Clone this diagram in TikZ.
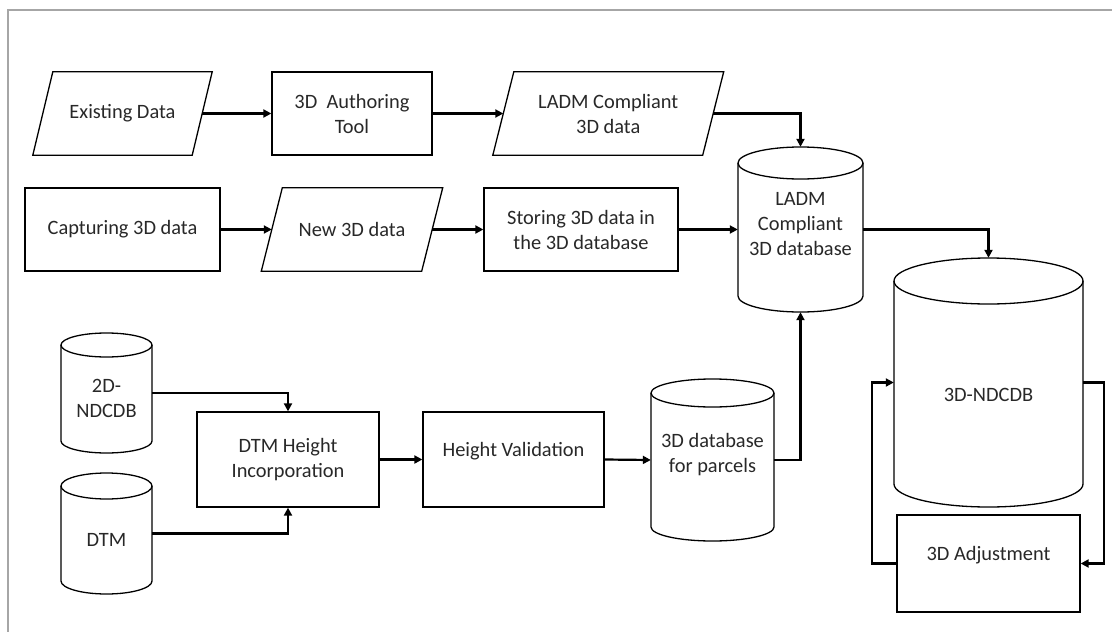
\documentclass[tikz,border=0pt]{standalone}
\usepackage{fontspec}
\setmainfont{Carlito}
\usetikzlibrary{arrows.meta,calc}
\definecolor{txt}{RGB}{40,40,40}
\tikzset{
 bline/.style={line width=1.3pt, draw=black},
 conn/.style={line width=2.2pt, -{Triangle[length=8pt,width=8pt]}},
 bx/.style={draw, bline, inner sep=0pt, align=center, text=txt},
 ghost/.style={draw=none, inner sep=0pt, align=center, text=txt},
 lbl/.style={align=center, text=txt, inner sep=0pt},
}
% name, cx, ytop, ybot, rx, ry
\newcommand\dbcyl[6]{%
 \pgfmathsetmacro\cyA{#3+#6}\pgfmathsetmacro\cyB{#4-#6}%
 \pgfmathsetmacro\cyC{(#3+#4)/2}\pgfmathsetmacro\cyW{2*#5}\pgfmathsetmacro\cyH{#4-#3}%
 \node[ghost, minimum width=\cyW pt, minimum height=\cyH pt] (#1) at (#2,\cyC) {};
 \draw[bline] (#2-#5,\cyA) -- (#2-#5,\cyB) arc[start angle=180,end angle=0,x radius=#5,y radius=#6] -- (#2+#5,\cyA);
 \draw[bline] (#2,\cyA) ellipse[x radius=#5, y radius=#6];
}
% name, cx, cy, w, h, skew, text
\newcommand\paranode[7]{%
 \node[ghost, minimum width=#4pt, minimum height=#5pt] (#1) at (#2,#3) {#7};
 \draw[bline] ($(#1.north west)+(#6/2,0)$) -- ($(#1.north east)+(#6/2,0)$) -- ($(#1.south east)+(-#6/2,0)$) -- ($(#1.south west)+(-#6/2,0)$) -- cycle;
}
\begin{document}
\begin{tikzpicture}[x=1pt, y=-1pt, font=\fontsize{20.4pt}{25pt}\selectfont]
\useasboundingbox (0,0) rectangle (1112,632);
\fill[white] (0,0) rectangle (1112,632);
\draw[black!35, line width=1.5pt] (8,632) -- (8,10) -- (1112,10);

% row 1
\paranode{ed}{122.5}{113.5}{159}{83}{20}{Existing Data}
\node[bx, minimum width=160pt, minimum height=83pt] (auth) at (352,113.5) {3D\hspace{0.45em}Authoring\\Tool};
\paranode{ladm}{608.25}{113.5}{209.5}{83}{21}{LADM Compliant\\3D data}

% row 2
\node[bx, minimum width=195pt, minimum height=83pt] (cap) at (122.5,229.5) {Capturing 3D data};
\paranode{new}{352}{229.5}{160}{83}{21}{New 3D data}
\node[bx, minimum width=194pt, minimum height=83pt] (stor) at (581,229.5) {Storing 3D data in\\the 3D database};

% cylinders
\dbcyl{ladmdb}{800.5}{147}{312}{62.5}{16}
\node[lbl] at (800.5,224) {LADM\\Compliant\\3D database};
\dbcyl{nd3}{988.5}{258}{507}{94.5}{23}
\node[lbl] at (988.5,395) {3D-NDCDB};
\dbcyl{nd2}{106.5}{333}{453}{45.5}{12}
\node[lbl] at (106.5,398) {2D-\\NDCDB};
\dbcyl{dtm}{106.5}{473}{594}{45.5}{13}
\node[lbl] at (106.5,540) {DTM};
\dbcyl{parc}{712.5}{379}{541}{61.5}{14}
\node[lbl] at (712.5,455) {3D database\\for parcels};

% bottom row boxes
\node[bx, minimum width=182pt, minimum height=95pt] (inc) at (288,459.5) {DTM Height\\Incorporation};
\node[bx, minimum width=181pt, minimum height=95pt] (hv) at (513.5,459.5) {};
\node[lbl] at (513.5,451) {Height Validation};
\node[bx, minimum width=183pt, minimum height=97pt] (adj) at (988.5,563.5) {};
\node[lbl] at (988.5,555) {3D Adjustment};

% connectors
\draw[conn] (ed.east) -- (auth.west);
\draw[conn] (auth.east) -- (ladm.west);
\draw[conn] (ladm.east) -| (ladmdb.north);
\draw[conn] (cap.east) -- (new.west);
\draw[conn] (new.east) -- (stor.west);
\draw[conn] (stor.east) -- (ladmdb.west);
\draw[conn] (ladmdb.east) -| (nd3.north);
\draw[conn] (nd2.east) -| (inc.north);
\draw[conn] (dtm.east) -| (inc.south);
\draw[conn] (inc.east) -- (hv.west);
\draw[conn] (hv.east) -- (parc.west);
\draw[conn] (parc.east) -| (ladmdb.south);
\coordinate (lp) at (872,563.5);
\coordinate (rp) at (1104,563.5);
\draw[conn] (adj.west) -- (lp) |- (nd3.west);
\draw[conn] (nd3.east) -| (rp) -- (adj.east);
\end{tikzpicture}
\end{document}
